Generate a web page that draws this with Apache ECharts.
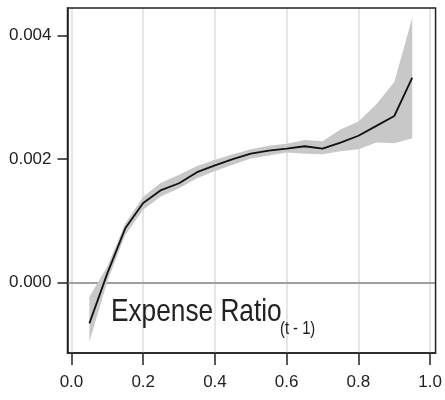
<!DOCTYPE html>
<html>
<head>
<meta charset="utf-8">
<script src="https://cdn.jsdelivr.net/npm/echarts@6/dist/echarts.min.js"></script>
<style>
  html, body { margin: 0; padding: 0; background: #fff; }
  #chart { width: 445px; height: 400px; }
</style>
</head>
<body>
<div id="chart"></div>
<script>
// Percentile of the lagged expense ratio
const xs = [0.05, 0.10, 0.15, 0.20, 0.25, 0.30, 0.35, 0.40, 0.45, 0.50,
            0.55, 0.60, 0.65, 0.70, 0.75, 0.80, 0.85, 0.90, 0.95];
// Point estimate of the coefficient
const estimate = [-0.00066, 0.00015, 0.00088, 0.00129, 0.00150, 0.00161, 0.00179, 0.00190, 0.00200, 0.00209,
                  0.00214, 0.00217, 0.00221, 0.00217, 0.00227, 0.00238, 0.00254, 0.00270, 0.00332];
// Confidence band
const upper = [-0.00023, 0.00026, 0.00096, 0.00139, 0.00162, 0.00175, 0.00189, 0.00199, 0.00208, 0.00216,
               0.00222, 0.00225, 0.00231, 0.00229, 0.00248, 0.00261, 0.00289, 0.00325, 0.00429];
const lower = [-0.00096, 0.00002, 0.00077, 0.00118, 0.00140, 0.00153, 0.00169, 0.00181, 0.00191, 0.00201,
               0.00206, 0.00211, 0.00209, 0.00208, 0.00213, 0.00216, 0.00227, 0.00226, 0.00234];
// Axis ticks
const xTicks = [0.0, 0.2, 0.4, 0.6, 0.8, 1.0];
const yTicks = [0.000, 0.002, 0.004];

const TICK_FONT = "'Liberation Sans', sans-serif";
const TITLE_FONT = "'Liberation Sans', sans-serif";

const chart = echarts.init(document.getElementById('chart'), null, { renderer: 'canvas' });

const band = xs.map((x, i) => [x, lower[i], upper[i]]);
const line = xs.map((x, i) => [x, estimate[i]]);

// Shaded band: one polygon through the upper edge and back along the lower edge
function renderBand(params, api) {
  if (params.dataIndex !== 0) return null;
  const top = band.map(d => api.coord([d[0], d[2]]));
  const bottom = band.slice().reverse().map(d => api.coord([d[0], d[1]]));
  return {
    type: 'polygon',
    shape: { points: top.concat(bottom) },
    style: { fill: '#c8c8c8', stroke: null }
  };
}

const gridLines = {
  silent: true,
  symbol: 'none',
  z: 1,
  label: { show: false },
  lineStyle: { color: '#dedede', width: 1.5, type: 'solid' },
  data: [
    ...xTicks.map(v => ({ xAxis: v })),
    ...yTicks.filter(v => v !== 0).map(v => ({ yAxis: v })),
    { yAxis: 0, lineStyle: { color: '#8a8a8a', width: 1.5 } }
  ]
};

chart.setOption({
  animation: false,
  grid: {
    left: 67.5, right: 7, top: 8, bottom: 47,
    show: true, borderColor: '#222', borderWidth: 1.5, z: 10
  },
  xAxis: {
    type: 'value',
    min: -0.011, max: 1.015,
    splitLine: { show: false },
    axisLine: { show: true, onZero: false, lineStyle: { color: '#222', width: 1.5 } },
    axisTick: { show: true, length: 12, customValues: xTicks, lineStyle: { color: '#222', width: 1.5 } },
    axisLabel: {
      customValues: xTicks, margin: 21,
      formatter: v => v.toFixed(1),
      color: '#222', fontSize: 17, fontFamily: TICK_FONT
    }
  },
  yAxis: {
    type: 'value',
    min: -0.00114, max: 0.00445,
    splitLine: { show: false },
    axisLine: { show: true, onZero: false, lineStyle: { color: '#222', width: 1.5 } },
    axisTick: { show: true, length: 10, customValues: yTicks, lineStyle: { color: '#222', width: 1.5 } },
    axisLabel: {
      customValues: yTicks, margin: 16,
      formatter: v => v.toFixed(3),
      color: '#222', fontSize: 17, fontFamily: TICK_FONT
    }
  },
  series: [
    {
      type: 'custom', data: band, renderItem: renderBand,
      encode: { x: 0, y: [1, 2] }, silent: true, z: 2,
      markLine: gridLines
    },
    {
      type: 'line', data: line, symbol: 'none', z: 3,
      lineStyle: { color: '#111', width: 1.8 }
    }
  ],
  graphic: [
    {
      type: 'text', x: 111, y: 312, z: 10, scaleX: 0.82,
      style: { text: 'Expense Ratio', fontSize: 32, fontFamily: TITLE_FONT, fill: '#222', verticalAlign: 'middle' }
    },
    {
      type: 'text', x: 280, y: 329, z: 10, scaleX: 0.82,
      style: { text: '(t - 1)', fontSize: 18, fontFamily: TITLE_FONT, fill: '#222', verticalAlign: 'middle' }
    }
  ]
});
</script>
</body>
</html>
